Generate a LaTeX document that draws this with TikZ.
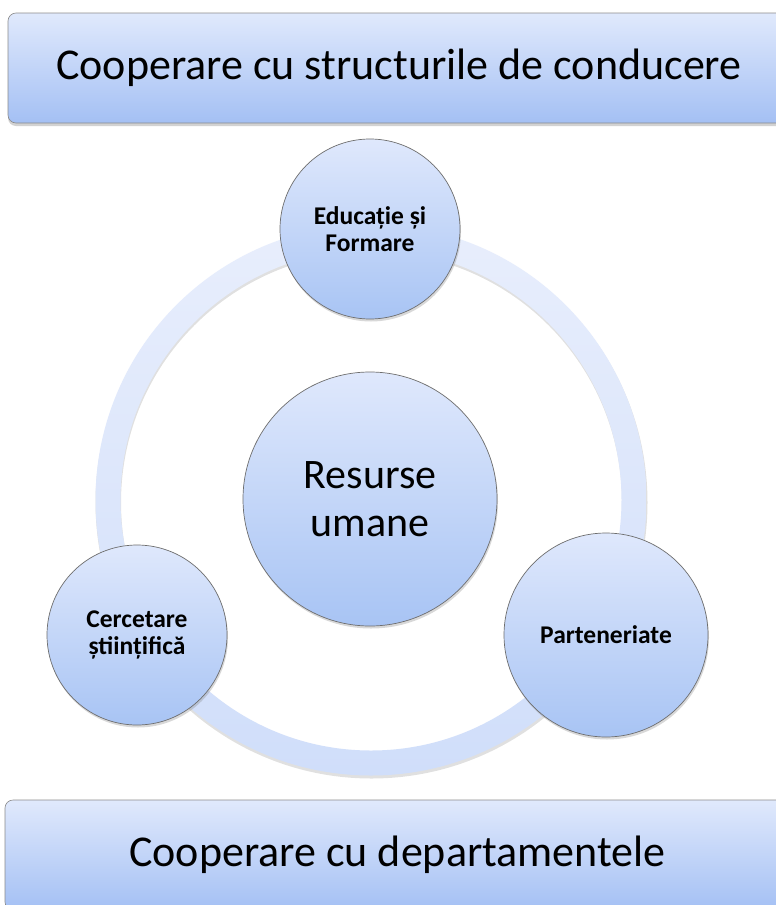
\documentclass[tikz,border=0pt]{standalone}
\usepackage{fontspec}
\setmainfont{Carlito}
\usetikzlibrary{shadows}
\definecolor{gtop}{HTML}{E0E9FC}
\definecolor{gbot}{HTML}{A4C0F4}
\definecolor{ctop}{HTML}{DFE8FC}
\definecolor{cbot}{HTML}{A8C4F4}
\definecolor{rtop}{HTML}{E8EEFC}
\definecolor{rbot}{HTML}{D0DEFA}
\definecolor{edge}{HTML}{6E6E6E}
\tikzset{
  bar/.style={draw=edge!80, line width=0.6pt, rounded corners=8pt,
    top color=gtop, bottom color=gbot, inner sep=0pt,
    drop shadow={opacity=0.35, shadow xshift=0pt, shadow yshift=-3pt},
    font=\fontsize{44}{53}\selectfont},
  bubble/.style={circle, draw=edge, line width=0.7pt, top color=ctop, bottom color=cbot,
    inner sep=0pt, align=center,
    drop shadow={opacity=0.3, shadow xshift=1pt, shadow yshift=-2.5pt}},
  small/.style={font=\bfseries\fontsize{25.5}{27.5}\selectfont},
}
\begin{document}
\begin{tikzpicture}[x=1pt,y=-1pt]
\useasboundingbox (0,0) rectangle (776,905);
\fill[white] (0,0) rectangle (776,905);
\coordinate (rc) at (371,500);
% ring shadow
\fill[black, opacity=0.12, even odd rule] ([shift={(0.5,2.5)}]rc) circle (276) ([shift={(0.5,2.5)}]rc) circle (250.5);
% ring
\path[top color=rtop, bottom color=rbot, even odd rule] (rc) circle (275.5) (rc) circle (250.5);
% central
\node[bubble, minimum size=254pt, font=\fontsize{42}{48}\selectfont] (hr) at (370,499) {Resurse\\umane};
% satellites
\node[bubble, minimum size=180pt, small] (edu) at (370,229) {Educație și\\Formare};
\node[bubble, minimum size=180pt, small] (cer) at (137,635) {Cercetare\\științifică};
\node[bubble, minimum size=204pt, small] (par) at (606,635) {Parteneriate};
% bars
\node[bar, minimum width=782pt, minimum height=110pt] (top) at (399,68) {Cooperare cu structurile de conducere};
\node[bar, minimum width=785pt, minimum height=110pt] (bot) at (397.5,855) {Cooperare cu departamentele};
\end{tikzpicture}
\end{document}
